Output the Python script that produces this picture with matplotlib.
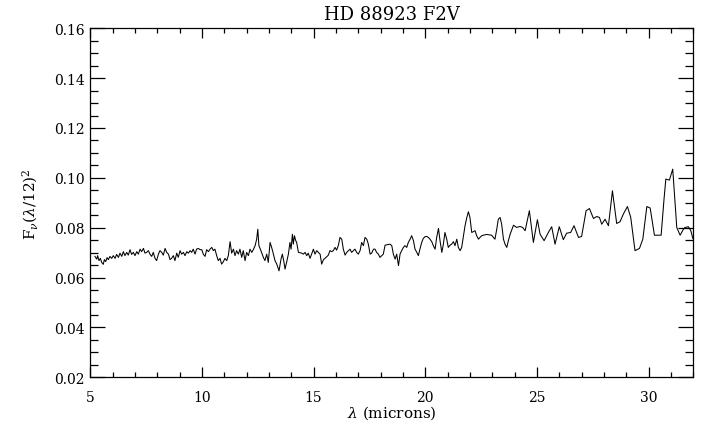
import numpy as np
import matplotlib.pyplot as plt
from matplotlib.ticker import MultipleLocator, FormatStrFormatter

# short-wavelength part of the spectrum (microns, F_nu*(lambda/12)^2)
wave_sl = [5.21, 5.29, 5.33, 5.39, 5.45, 5.51, 5.58, 5.63, 5.69, 5.75, 5.81, 5.88,
           5.96, 6.03, 6.11, 6.18, 6.26, 6.33, 6.41, 6.48, 6.55, 6.63, 6.70, 6.78,
           6.85, 6.93, 7.00, 7.08, 7.15, 7.23, 7.30, 7.38, 7.45, 7.52, 7.60, 7.67,
           7.75, 7.82, 7.90, 7.97, 8.05, 8.12, 8.20, 8.27, 8.35, 8.42, 8.50, 8.57,
           8.64, 8.72, 8.79, 8.87, 8.94, 9.02, 9.09, 9.17, 9.24, 9.32, 9.39, 9.47,
           9.54, 9.61, 9.69, 9.76, 9.84, 9.91, 9.99, 10.06, 10.14, 10.21, 10.29, 10.36,
           10.44, 10.51, 10.58, 10.66, 10.73, 10.81, 10.88, 10.96, 11.03, 11.11, 11.18, 11.26,
           11.33, 11.41, 11.48, 11.55, 11.63, 11.70, 11.78, 11.85, 11.93, 12.00, 12.08, 12.15,
           12.23, 12.30, 12.38, 12.45, 12.50, 12.55, 12.64, 12.75, 12.82, 12.90, 12.97, 13.05,
           13.12, 13.20, 13.27, 13.35, 13.45, 13.54, 13.60, 13.66, 13.72, 13.79, 13.87, 13.94,
           13.99, 14.05, 14.09, 14.14, 14.20, 14.24]
flux_sl = [0.0685, 0.0674, 0.0688, 0.0668, 0.0677, 0.0661, 0.0653, 0.0672, 0.0664, 0.0680, 0.0672, 0.0685,
           0.0677, 0.0688, 0.0677, 0.0693, 0.0681, 0.0698, 0.0685, 0.0704, 0.0688, 0.0701, 0.0690, 0.0712,
           0.0693, 0.0701, 0.0688, 0.0704, 0.0694, 0.0714, 0.0704, 0.0717, 0.0698, 0.0701, 0.0708, 0.0694,
           0.0685, 0.0701, 0.0677, 0.0668, 0.0694, 0.0708, 0.0701, 0.0690, 0.0717, 0.0701, 0.0694, 0.0672,
           0.0677, 0.0688, 0.0668, 0.0698, 0.0681, 0.0708, 0.0694, 0.0701, 0.0688, 0.0704, 0.0698, 0.0708,
           0.0701, 0.0714, 0.0694, 0.0714, 0.0717, 0.0712, 0.0712, 0.0694, 0.0685, 0.0712, 0.0704, 0.0714,
           0.0721, 0.0708, 0.0714, 0.0688, 0.0668, 0.0677, 0.0654, 0.0664, 0.0677, 0.0668, 0.0688, 0.0744,
           0.0698, 0.0714, 0.0688, 0.0708, 0.0694, 0.0714, 0.0681, 0.0708, 0.0668, 0.0701, 0.0688, 0.0714,
           0.0701, 0.0712, 0.0728, 0.0754, 0.0794, 0.0728, 0.0708, 0.0681, 0.0668, 0.0694, 0.0661, 0.0741,
           0.0721, 0.0694, 0.0668, 0.0654, 0.0627, 0.0674, 0.0694, 0.0668, 0.0634, 0.0661, 0.0694, 0.0741,
           0.0714, 0.0774, 0.0734, 0.0768, 0.0748, 0.0741]

# long-wavelength part
wave_ll = [14.32, 14.47, 14.54, 14.62, 14.69, 14.76, 14.84, 14.91, 14.99, 15.06, 15.14, 15.21,
           15.29, 15.36, 15.44, 15.51, 15.66, 15.73, 15.81, 15.88, 15.96, 16.03, 16.11, 16.18,
           16.26, 16.33, 16.41, 16.48, 16.56, 16.63, 16.70, 16.78, 16.85, 16.93, 17.00, 17.08,
           17.15, 17.23, 17.30, 17.38, 17.45, 17.53, 17.60, 17.68, 17.75, 17.82, 17.90, 17.97,
           18.05, 18.12, 18.20, 18.42, 18.50, 18.57, 18.65, 18.72, 18.80, 18.87, 18.94, 19.02,
           19.09, 19.17, 19.24, 19.32, 19.39, 19.47, 19.54, 19.62, 19.69, 19.76, 19.84, 19.91,
           19.99, 20.06, 20.14, 20.21, 20.29, 20.36, 20.44, 20.51, 20.59, 20.66, 20.74, 20.81,
           20.88, 20.96, 21.03, 21.11, 21.18, 21.26, 21.33, 21.41, 21.48, 21.56, 21.63, 21.71,
           21.78, 21.86, 21.93, 22.00, 22.08, 22.15, 22.23, 22.30, 22.38, 22.45, 22.53, 22.60,
           22.75, 22.97, 23.05, 23.12, 23.20, 23.27, 23.35, 23.42, 23.50, 23.57, 23.65, 23.72,
           23.80, 23.95, 24.09, 24.24, 24.36, 24.47, 24.66, 24.84, 25.02, 25.14, 25.32, 25.51,
           25.66, 25.81, 26.00, 26.18, 26.33, 26.51, 26.66, 26.86, 27.00, 27.20, 27.35, 27.53,
           27.68, 27.80, 27.90, 28.05, 28.20, 28.38, 28.57, 28.72, 28.87, 29.05, 29.20, 29.39,
           29.59, 29.74, 29.92, 30.07, 30.26, 30.56, 30.69, 30.77, 30.93, 31.08, 31.26, 31.41,
           31.56, 31.63, 31.78, 31.89, 31.98]
flux_ll = [0.0701, 0.0698, 0.0694, 0.0701, 0.0688, 0.0698, 0.0677, 0.0694, 0.0714, 0.0694, 0.0708, 0.0701,
           0.0694, 0.0654, 0.0672, 0.0677, 0.0690, 0.0708, 0.0704, 0.0708, 0.0721, 0.0710, 0.0730, 0.0761,
           0.0754, 0.0714, 0.0690, 0.0701, 0.0708, 0.0714, 0.0701, 0.0708, 0.0714, 0.0701, 0.0694, 0.0708,
           0.0741, 0.0728, 0.0761, 0.0754, 0.0734, 0.0694, 0.0698, 0.0714, 0.0714, 0.0701, 0.0694, 0.0681,
           0.0688, 0.0694, 0.0730, 0.0734, 0.0728, 0.0694, 0.0674, 0.0694, 0.0648, 0.0694, 0.0708, 0.0721,
           0.0728, 0.0721, 0.0741, 0.0754, 0.0768, 0.0748, 0.0714, 0.0701, 0.0688, 0.0714, 0.0741, 0.0757,
           0.0764, 0.0765, 0.0761, 0.0754, 0.0744, 0.0728, 0.0714, 0.0761, 0.0797, 0.0748, 0.0701, 0.0734,
           0.0781, 0.0754, 0.0721, 0.0730, 0.0734, 0.0744, 0.0728, 0.0754, 0.0721, 0.0708, 0.0721, 0.0768,
           0.0808, 0.0841, 0.0864, 0.0841, 0.0781, 0.0784, 0.0788, 0.0768, 0.0754, 0.0761, 0.0768, 0.0770,
           0.0773, 0.0770, 0.0761, 0.0754, 0.0794, 0.0834, 0.0841, 0.0814, 0.0754, 0.0734, 0.0721, 0.0748,
           0.0774, 0.0810, 0.0801, 0.0805, 0.0801, 0.0788, 0.0868, 0.0741, 0.0832, 0.0774, 0.0748, 0.0781,
           0.0804, 0.0734, 0.0804, 0.0752, 0.0778, 0.0781, 0.0808, 0.0761, 0.0765, 0.0868, 0.0877, 0.0837,
           0.0845, 0.0841, 0.0814, 0.0834, 0.0808, 0.0948, 0.0817, 0.0824, 0.0855, 0.0885, 0.0841, 0.0708,
           0.0717, 0.0754, 0.0885, 0.0879, 0.0770, 0.0770, 0.0915, 0.0995, 0.0991, 0.1035, 0.0801, 0.0770,
           0.0794, 0.0801, 0.0804, 0.0788, 0.0757]

title = "HD 88923 F2V"

wave = np.array(wave_sl + wave_ll)
flux = np.array(flux_sl + flux_ll)

plt.rcParams['font.family'] = 'DejaVu Serif'
plt.rcParams['mathtext.fontset'] = 'dejavuserif'

fig = plt.figure(figsize=(7.2, 4.39), dpi=100)
ax = fig.add_axes([0.1254, 0.1383, 0.8375, 0.7950])

ax.plot(wave, flux, color='black', lw=0.75)

ax.set_xlim(5, 32)
ax.set_ylim(0.02, 0.16)
ax.xaxis.set_major_locator(MultipleLocator(5))
ax.xaxis.set_minor_locator(MultipleLocator(1))
ax.yaxis.set_major_locator(MultipleLocator(0.02))
ax.yaxis.set_minor_locator(MultipleLocator(0.005))
ax.yaxis.set_major_formatter(FormatStrFormatter('%.2f'))

ax.tick_params(axis='both', which='both', direction='in', top=True, right=True,
               width=0.9, labelsize=10)
ax.tick_params(axis='x', which='major', length=7, pad=9)
ax.tick_params(axis='x', which='minor', length=3.5)
ax.tick_params(axis='y', which='major', length=11, pad=4)
ax.tick_params(axis='y', which='minor', length=5.5)
for s in ax.spines.values():
    s.set_linewidth(0.9)

ax.set_title(title, fontsize=13, pad=7)
ax.set_xlabel(r"$\lambda$ (microns)", fontsize=11, labelpad=0)
ax.set_ylabel(r"F$_\nu$($\lambda$/12)$^2$", fontsize=11, labelpad=10)

fig.savefig("out.png", dpi=100)
